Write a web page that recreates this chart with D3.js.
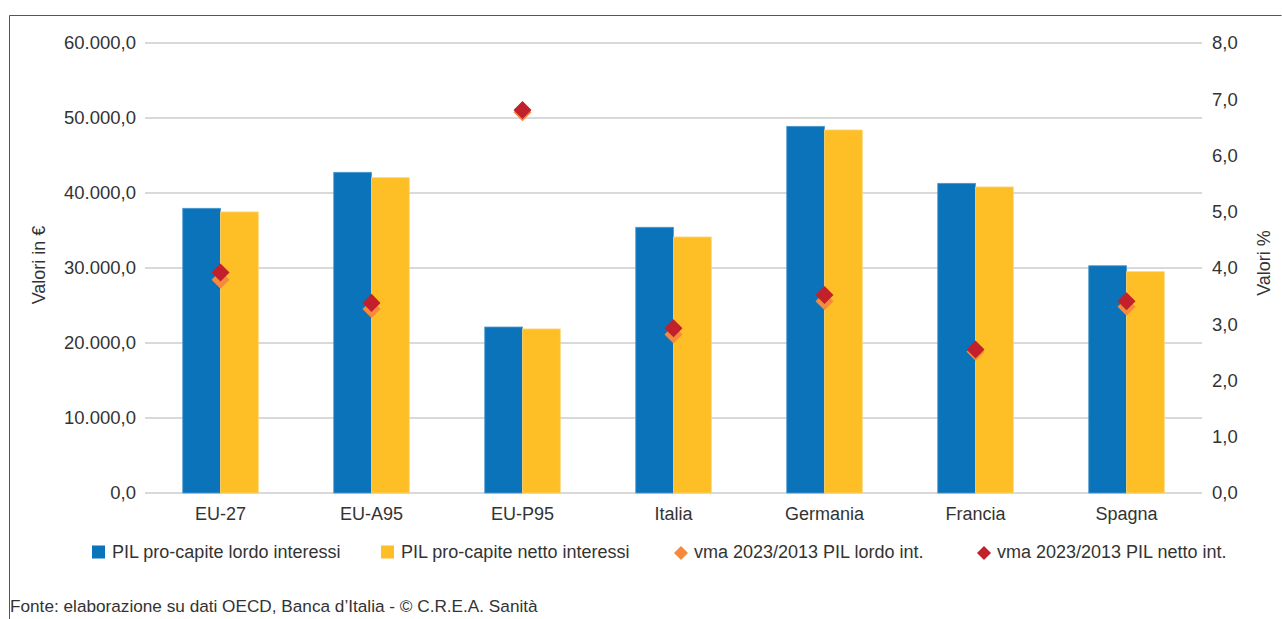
<!DOCTYPE html>
<html>
<head>
<meta charset="utf-8">
<script src="https://cdn.jsdelivr.net/npm/d3@7"></script>
<style>
  html, body { margin: 0; padding: 0; background: #fff; }
  svg { display: block; font-family: "Liberation Sans", Arial, sans-serif; }
</style>
</head>
<body>
<svg id="chart" width="1282" height="619"></svg>
<script>
// ---- data ----
const categories = ["EU-27", "EU-A95", "EU-P95", "Italia", "Germania", "Francia", "Spagna"];
const pilLordo = [37960, 42760, 22130, 35430, 48890, 41290, 30300];
const pilNetto = [37470, 42040, 21870, 34130, 48400, 40800, 29500];
const vmaLordo = [3.79, 3.27, 6.77, 2.82, 3.41, 2.51, 3.31];
const vmaNetto = [3.92, 3.38, 6.81, 2.93, 3.52, 2.55, 3.41];
const leftTicks = [0, 10000, 20000, 30000, 40000, 50000, 60000];
const rightTicks = [0, 1, 2, 3, 4, 5, 6, 7, 8];
const seriesNames = ["PIL pro-capite lordo interessi", "PIL pro-capite netto interessi",
                     "vma 2023/2013 PIL lordo int.", "vma 2023/2013 PIL netto int."];
const leftTitle = "Valori in €";
const rightTitle = "Valori %";
const sourceText = "Fonte: elaborazione su dati OECD, Banca d’Italia - © C.R.E.A. Sanità";

// ---- styles ----
const colBlue = "#0a73ba", colYellow = "#fdbe26", colOrange = "#f58a3d", colRed = "#c2202a";
const textCol = "#333333";

const svg = d3.select("#chart");
const locale = d3.formatLocale({decimal: ",", thousands: ".", grouping: [3], currency: ["€", ""]});
const fmt = locale.format(",.1f");

const plot = {left: 145, right: 1202, top: 43, bottom: 493};
const x = d3.scaleBand().domain(categories).range([plot.left, plot.right]).paddingInner(0.5).paddingOuter(0.25);
const xs = d3.scaleBand().domain([0, 1]).range([0, x.bandwidth()]);
const y0 = d3.scaleLinear().domain([0, 60000]).range([plot.bottom, plot.top]);
const y1 = d3.scaleLinear().domain([0, 8]).range([plot.bottom, plot.top]);

// frame
svg.append("path").attr("d", "M9.5,619 V15.5 H1281.5")
  .attr("fill", "none").attr("stroke", "#555").attr("stroke-width", 1);

// gridlines
svg.append("g").selectAll("line").data(leftTicks).join("line")
  .attr("x1", plot.left).attr("x2", plot.right)
  .attr("y1", d => y0(d)).attr("y2", d => y0(d))
  .attr("stroke", "#d9d9d9").attr("stroke-width", 2);

// left axis
const gl = svg.append("g").attr("transform", `translate(${plot.left},0)`)
  .call(d3.axisLeft(y0).tickValues(leftTicks).tickFormat(fmt).tickSize(0).tickPadding(9));
gl.select(".domain").remove();
gl.selectAll("text").attr("font-size", 18.5).attr("fill", textCol).attr("font-family", null);

// right axis
const gr = svg.append("g").attr("transform", `translate(${plot.right},0)`)
  .call(d3.axisRight(y1).tickValues(rightTicks).tickFormat(fmt).tickSize(0).tickPadding(10));
gr.select(".domain").remove();
gr.selectAll("text").attr("font-size", 18.5).attr("fill", textCol).attr("font-family", null);

// bottom axis
const gb = svg.append("g").attr("transform", `translate(0,${plot.bottom})`)
  .call(d3.axisBottom(x).tickSize(0).tickPadding(14));
gb.select(".domain").remove();
gb.selectAll("text").attr("font-size", 18).attr("fill", textCol).attr("font-family", null);

// bars
const groups = svg.append("g").selectAll("g").data(categories).join("g")
  .attr("transform", d => `translate(${x(d)},0)`);
groups.append("rect")
  .attr("x", xs(0)).attr("width", xs.bandwidth())
  .attr("y", (d, i) => y0(pilLordo[i])).attr("height", (d, i) => y0(0) - y0(pilLordo[i]))
  .attr("fill", colBlue).attr("stroke", "#4c97cc").attr("stroke-width", 0.8);
groups.append("rect")
  .attr("x", xs(1)).attr("width", xs.bandwidth())
  .attr("y", (d, i) => y0(pilNetto[i])).attr("height", (d, i) => y0(0) - y0(pilNetto[i]))
  .attr("fill", colYellow).attr("stroke", "#fdd36e").attr("stroke-width", 0.8);

// diamonds
const diamond = d3.symbol().type(d3.symbolSquare).size(162);
const cx = c => x(c) + x.bandwidth() / 2;
svg.append("g").selectAll("path").data(categories).join("path")
  .attr("d", diamond())
  .attr("transform", (d, i) => `translate(${cx(d)},${y1(vmaLordo[i])}) rotate(45)`)
  .attr("fill", colOrange);
svg.append("g").selectAll("path").data(categories).join("path")
  .attr("d", diamond())
  .attr("transform", (d, i) => `translate(${cx(d)},${y1(vmaNetto[i])}) rotate(45)`)
  .attr("fill", colRed);

// axis titles
svg.append("text").attr("transform", "translate(45,265) rotate(-90)")
  .attr("text-anchor", "middle").attr("font-size", 18).attr("fill", textCol).text(leftTitle);
svg.append("text").attr("transform", "translate(1270,263) rotate(-90)")
  .attr("text-anchor", "middle").attr("font-size", 18).attr("fill", textCol).text(rightTitle);

// legend
const legendY = 552;
const legendItems = [
  {name: seriesNames[0], color: colBlue, shape: "square", x: 92},
  {name: seriesNames[1], color: colYellow, shape: "square", x: 381},
  {name: seriesNames[2], color: colOrange, shape: "diamond", x: 674},
  {name: seriesNames[3], color: colRed, shape: "diamond", x: 977}
];
const lg = svg.append("g").selectAll("g").data(legendItems).join("g")
  .attr("transform", d => `translate(${d.x},${legendY})`);
lg.filter(d => d.shape === "square").append("rect")
  .attr("x", 0).attr("y", -6.5).attr("width", 13).attr("height", 13).attr("fill", d => d.color);
lg.filter(d => d.shape === "diamond").append("path")
  .attr("d", d3.symbol().type(d3.symbolSquare).size(98)())
  .attr("transform", "translate(7,1) rotate(45)").attr("fill", d => d.color);
lg.append("text").attr("x", 20).attr("y", 0).attr("dy", "0.35em")
  .attr("font-size", 18).attr("fill", textCol).text(d => d.name);

// source
svg.append("text").attr("x", 10).attr("y", 612).attr("font-size", 17.2).attr("fill", textCol).text(sourceText);
</script>
</body>
</html>
